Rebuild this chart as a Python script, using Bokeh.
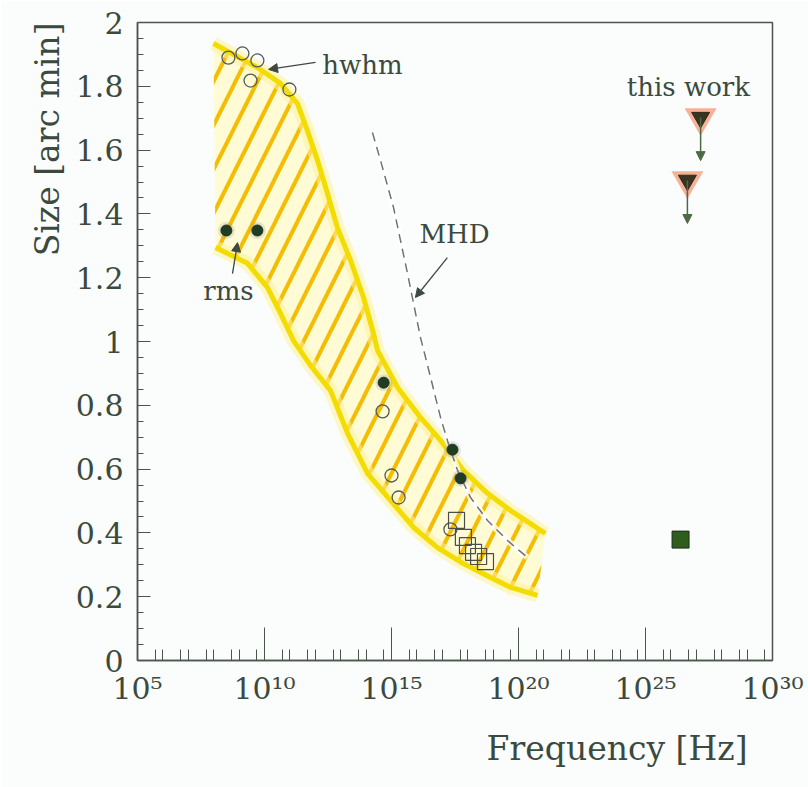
import numpy as np
from bokeh.plotting import figure
from bokeh.models import (Range1d, FixedTicker, SingleIntervalTicker, CustomJSTickFormatter,
                          Label, Arrow, NormalHead, Title)
from bokeh.embed import file_html
from bokeh.resources import INLINE

# ---- data (log10 frequency [Hz], size [arc min]) ----
band_upper_logf = [7.99, 9.72, 10.63, 11.30, 11.69, 12.09, 12.48, 12.87, 13.39, 13.90, 14.29, 14.45,
                   15.24, 16.14, 16.93, 17.83, 18.78, 19.69, 20.47, 21.06]
band_upper_size = [1.934, 1.859, 1.809, 1.746, 1.661, 1.567, 1.464, 1.357, 1.254, 1.138, 1.025, 0.972,
                   0.856, 0.762, 0.690, 0.596, 0.524, 0.470, 0.429, 0.398]
band_lower_logf = [8.07, 9.33, 10.12, 10.63, 11.14, 11.81, 12.60, 13.27, 14.06, 14.96, 15.87, 16.81,
                   17.83, 18.90, 19.69, 20.75]
band_lower_size = [1.295, 1.245, 1.169, 1.088, 1.003, 0.925, 0.846, 0.712, 0.586, 0.502, 0.417, 0.354,
                   0.304, 0.260, 0.229, 0.204]

hwhm_logf = [8.58, 9.13, 9.72, 9.45, 10.98, 14.65, 15.00, 15.28, 17.32]
hwhm_size = [1.890, 1.903, 1.881, 1.818, 1.790, 0.781, 0.580, 0.511, 0.411]

rms_logf = [8.50, 9.72, 14.69, 17.40, 17.72]
rms_size = [1.348, 1.348, 0.871, 0.661, 0.571]

square_logf = [17.56, 17.83, 17.99, 18.23, 18.43, 18.70]
square_size = [0.439, 0.386, 0.360, 0.339, 0.326, 0.310]

mhd_logf = [14.25, 14.57, 15.08, 15.63, 16.14, 16.54, 16.93, 17.20, 17.60, 18.11, 18.78, 19.57, 20.35]
mhd_size = [1.655, 1.567, 1.420, 1.213, 1.013, 0.887, 0.762, 0.690, 0.596, 0.511, 0.439, 0.376, 0.323]

thiswork_logf = [27.17, 26.65]
thiswork_size = [1.702, 1.505]
thiswork_limit = [1.567, 1.370]

tev_logf = [26.38]
tev_size = [0.379]

x_major_exp = [5, 10, 15, 20, 25, 30]
y_interval = 0.2

TXT = "#3b4a3d"
FONT = "DejaVu Serif"

def hz(a):
    return [10.0 ** v for v in a]

p = figure(width=808, height=787, x_axis_type="log",
           x_range=Range1d(1e5, 1e30), y_range=Range1d(0, 2),
           output_backend="svg", toolbar_location=None,
           min_border_left=137, min_border_right=36, min_border_top=22, min_border_bottom=127,
           background_fill_color="#fbfdfd", border_fill_color="#fbfdfd")
p.grid.visible = False
p.outline_line_color = "#4a564a"
p.outline_line_width = 1.5

# ---- band ----
bx = hz(band_upper_logf) + hz(band_lower_logf[::-1])
by = band_upper_size + band_lower_size[::-1]
p.patch(bx, by, fill_color="#fffbd4", fill_alpha=1.0, line_color=None,
        hatch_pattern="/", hatch_color="#f5bd00", hatch_weight=4, hatch_scale=44)
for lx, ly in ((band_upper_logf, band_upper_size), (band_lower_logf, band_lower_size)):
    p.line(hz(lx), ly, line_color="#fff09a", line_width=14, line_alpha=0.55)
    p.line(hz(lx), ly, line_color="#f3dc00", line_width=5)

# ---- MHD ----
p.line(hz(mhd_logf), mhd_size, line_color="#ffffff", line_width=6, line_alpha=0.8)
p.line(hz(mhd_logf), mhd_size, line_color="#6f7470", line_width=1.5, line_dash="9 6")

# ---- points ----
p.scatter(hz(hwhm_logf), hwhm_size, marker="circle", size=13, fill_color=None,
          line_color="#555a55", line_width=1.3)
p.scatter(hz(rms_logf), rms_size, marker="circle", size=17, fill_color="#9aa09a",
          fill_alpha=0.25, line_color=None)
p.scatter(hz(rms_logf), rms_size, marker="circle", size=11, fill_color="#1f3d20",
          line_color="#233023", line_width=1)
p.scatter(hz(square_logf), square_size, marker="square", size=16, fill_color=None,
          line_color="#4a4e4a", line_width=1.2)

# ---- this work ----
for lf, s0, s1 in zip(thiswork_logf, thiswork_size, thiswork_limit):
    p.add_layout(Arrow(x_start=10.0 ** lf, y_start=s0, x_end=10.0 ** lf, y_end=s1,
                       line_color="#4d6a45", line_width=1.5,
                       end=NormalHead(size=9, fill_color="#4d6a45", line_color="#4d6a45")))
p.scatter(hz(thiswork_logf), thiswork_size, marker="inverted_triangle", size=32,
          fill_color="#f6a88c", fill_alpha=0.9, line_color=None)
p.scatter(hz(thiswork_logf), thiswork_size, marker="inverted_triangle", size=18,
          fill_color="#3a3322", line_color="#2b2a1e")

p.scatter(hz(tev_logf), tev_size, marker="square", size=17, fill_color="#2e5d1e",
          line_color="#1e2e1e", line_width=1)

# ---- labels and arrows ----
labels = [("hwhm", 13.86, 1.866), ("rms", 8.58, 1.157), ("MHD", 17.48, 1.338), ("this work", 26.69, 1.799)]
for t, lf, s in labels:
    p.add_layout(Label(x=10.0 ** lf, y=s, text=t, text_align="center", text_baseline="alphabetic",
                       text_font=FONT, text_font_size="26px", text_color=TXT))

arrows = [((12.01, 1.875), (10.16, 1.853)),
          ((8.74, 1.213), (8.94, 1.310)),
          ((17.20, 1.263), (15.94, 1.138))]
for (a, b), (c, d) in arrows:
    p.add_layout(Arrow(x_start=10.0 ** a, y_start=b, x_end=10.0 ** c, y_end=d,
                       line_color="#3e4a40", line_width=1.3,
                       end=NormalHead(size=9, fill_color="#3e4a40", line_color="#3e4a40")))

# ---- axes ----
minor = []
for e in range(5, 30):
    minor.append(5 * 10.0 ** e)
    minor.append(10.0 ** (e + 1))
p.xaxis.ticker = FixedTicker(ticks=[10.0 ** e for e in x_major_exp], minor_ticks=minor)
p.xaxis.formatter = CustomJSTickFormatter(code="""
const sup = {'0':'\u2070','1':'\u00b9','2':'\u00b2','3':'\u00b3','4':'\u2074','5':'\u2075','6':'\u2076','7':'\u2077','8':'\u2078','9':'\u2079','-':'\u207b'};
const e = Math.round(Math.log10(tick));
return '10' + String(e).split('').map(c => sup[c]).join('');
""")
p.yaxis.ticker = SingleIntervalTicker(interval=y_interval, num_minor_ticks=4)
p.yaxis.formatter = CustomJSTickFormatter(code="return String(Math.round(tick*10)/10);")

for ax in (p.xaxis[0], p.yaxis[0]):
    ax.axis_line_color = "#4a564a"
    ax.axis_line_width = 1.5
    ax.major_tick_line_color = "#4a564a"
    ax.minor_tick_line_color = "#4a564a"
    ax.major_tick_out = 0
    ax.minor_tick_out = 0
    ax.major_label_text_font = FONT
    ax.major_label_text_color = TXT
    ax.major_label_text_font_size = "30px"

p.xaxis.major_tick_in = 33
p.xaxis.minor_tick_in = 11
p.xaxis.major_label_standoff = 10

p.yaxis.major_tick_in = 13
p.yaxis.minor_tick_in = 6
p.yaxis.major_label_standoff = 14

# ---- axis titles, right/top aligned as in the reference ----
p.add_layout(Title(text="Frequency [Hz]", align="right", offset=25, standoff=37,
                   text_font=FONT, text_font_style="normal", text_font_size="33px",
                   text_color=TXT), "below")
p.add_layout(Title(text="Size [arc min]", align="right", offset=0, standoff=12,
                   text_font=FONT, text_font_style="normal", text_font_size="33px",
                   text_color=TXT), "left")

open("out.html", "w").write(file_html(p, INLINE))
